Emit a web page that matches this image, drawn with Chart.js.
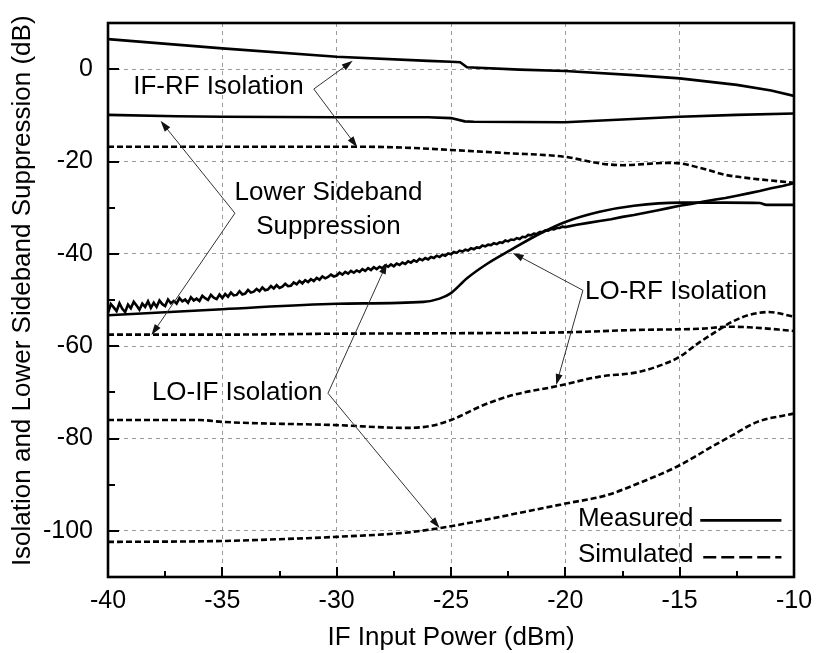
<!DOCTYPE html>
<html>
<head>
<meta charset="utf-8">
<script src="https://cdn.jsdelivr.net/npm/chart.js@4.4.1/dist/chart.umd.min.js"></script>
<style>
  html, body { margin: 0; padding: 0; background: #fff; }
  #wrap { width: 818px; height: 653px; position: relative; }
</style>
</head>
<body>
<div id="wrap"><canvas id="chart"></canvas></div>
<script>
// Axis ticks
const yTickValues = [-100, -80, -60, -40, -20, 0];
const yTitle = 'Isolation and Lower Sideband Suppression (dB)';

// Measured IF-RF isolation
const ifRfMeasX = [-40, -35, -30, -26, -25, -24.6, -24.3, -22, -20, -17, -15, -12.5, -11, -10];
const ifRfMeasY = [6.5, 4.5, 2.7, 1.8, 1.6, 1.5, 0.4, -0.1, -0.4, -1.3, -2.0, -3.4, -4.6, -5.8];

// Measured lower sideband suppression
const lsbMeasX = [-40, -37, -35, -30, -26, -25, -24.4, -24, -20, -17.5, -15, -12.5, -10];
const lsbMeasY = [-9.9, -10.2, -10.3, -10.4, -10.4, -10.6, -11.3, -11.4, -11.5, -10.9, -10.3, -9.9, -9.6];

// Simulated IF-RF isolation
const ifRfSimX = [-40, -29, -27, -25, -22.5, -20, -18.5, -17.5, -15.5, -15, -14, -13, -12, -10];
const ifRfSimY = [-16.8, -16.8, -17.0, -17.5, -18.2, -19.0, -20.4, -20.8, -20.3, -20.4, -21.5, -22.9, -23.6, -24.6];

// Measured LO-IF isolation: noisy part, 0.125 dBm steps from -40 to -20
const loIfNoisyY = [
  -52.8, -50.9, -51.6, -52.4, -50.7, -51.9, -52.6, -51.0,
  -51.8, -50.4, -51.2, -52.1, -50.8, -51.5, -50.3, -51.7,
  -50.6, -51.5, -50.1, -50.9, -51.3, -49.9, -50.7, -50.2,
  -50.8, -49.6, -50.3, -49.9, -50.6, -49.4, -50.1, -49.7,
  -50.2, -49.1, -49.6, -50.0, -48.9, -49.5, -49.8, -48.8,
  -49.6, -48.7, -49.3, -48.4, -49.0, -48.9, -48.1, -48.8,
  -48.6, -47.8, -48.4, -48.2, -47.6, -48.1, -47.3, -47.9,
  -47.7, -47.0, -47.5, -46.8, -47.4, -47.1, -46.5, -47.0,
  -46.9, -46.2, -46.6, -45.9, -46.4, -45.7, -46.1, -45.5,
  -45.9, -45.2, -45.6, -44.9, -45.3, -45.0, -44.5, -44.9,
  -44.7, -44.1, -44.5, -43.9, -44.3, -43.7, -44.1, -43.6,
  -43.9, -43.3, -43.7, -43.1, -43.5, -42.9, -43.3, -42.8,
  -43.1, -42.5, -42.8, -42.3, -42.7, -42.1, -42.4, -41.9,
  -42.2, -41.6, -41.9, -41.4, -41.7, -41.1, -41.4, -40.9,
  -41.2, -40.7, -40.9, -40.4, -40.7, -40.2, -40.4, -39.9,
  -40.1, -39.6, -39.8, -39.3, -39.5, -39.1, -39.3, -38.8,
  -39.0, -38.6, -38.7, -38.2, -38.4, -38.0, -38.1, -37.7,
  -37.9, -37.5, -37.6, -37.1, -37.3, -36.9, -37.0, -36.6,
  -36.8, -36.3, -36.4, -35.9, -36.0, -35.6, -35.7, -35.3,
  -35.3, -34.9, -35.0, -34.6, -34.7, -34.4, -34.4, -34.1,
  -34.2
];
// Measured LO-IF isolation: smooth part, 0.5 dBm steps from -19.5 to -10
const loIfSmoothY = [
  -33.7, -33.3, -32.9, -32.5, -32.0, -31.6, -31.1, -30.6, -30.1, -29.6,
  -29.2, -28.7, -28.3, -27.9, -27.4, -26.9, -26.4, -25.8, -25.3, -24.7
];
const loIfMeasX = loIfNoisyY.map((_, i) => -40 + i * 0.125)
  .concat(loIfSmoothY.map((_, i) => -19.5 + i * 0.5));
const loIfMeasY = loIfNoisyY.concat(loIfSmoothY);

// Measured LO-RF isolation
const loRfMeasX = [-40, -35, -30, -26.2, -25.5, -25, -24.3, -23.4, -22.4, -21.1, -20, -18.5, -17, -15, -13, -11.5, -11.2, -10];
const loRfMeasY = [-53.3, -52.0, -50.8, -50.4, -49.7, -48.5, -45.3, -42.1, -39.2, -35.6, -33.1, -30.9, -29.6, -28.9, -28.9, -29.0, -29.4, -29.4];

// Simulated lower sideband suppression
const lsbSimX = [-40, -35, -30, -25, -20, -17, -14, -12.9, -12, -10];
const lsbSimY = [-57.5, -57.5, -57.3, -57.2, -57.0, -56.5, -56.2, -55.8, -55.9, -56.7];

// Simulated LO-RF isolation
const loRfSimX = [-40, -36, -35, -30, -27, -25.9, -25, -23.6, -22.3, -20.4, -18.5, -16.8, -15.6, -15, -14.2, -13.3, -12.7, -12, -11.1, -10];
const loRfSimY = [-76.0, -76.0, -76.4, -77.1, -77.7, -77.3, -76.0, -72.8, -70.6, -68.7, -66.6, -65.6, -63.7, -62.3, -59.4, -56.5, -54.7, -53.3, -52.6, -53.6];

// Simulated LO-IF isolation
const loIfSimX = [-40, -35, -33, -30, -27, -25.6, -23.6, -21.8, -20, -18.2, -16.8, -15, -13.6, -12.7, -11.6, -10];
const loIfSimY = [-102.4, -102.2, -101.9, -101.3, -100.4, -99.5, -97.7, -95.9, -94.1, -92.3, -89.7, -85.8, -81.8, -79.3, -76.4, -74.6];

// Callout labels (data coordinates)
const callouts = [
  { lines: ['IF-RF Isolation'], x: -38.9, y: -3.9, align: 'left', from: [-31.0, -4.3], tips: [[-29.3, 1.8], [-29.1, -16.9]] },
  { lines: ['Lower Sideband', 'Suppression'], x: -30.36, y: -26.8, align: 'center', from: [-34.45, -31.2], tips: [[-37.7, -11.2], [-38.1, -57.6]] },
  { lines: ['LO-RF Isolation'], x: -19.14, y: -48.3, align: 'left', from: [-19.23, -47.9], tips: [[-22.3, -39.8], [-20.4, -68.4]] },
  { lines: ['LO-IF Isolation'], x: -38.08, y: -70.0, align: 'left', from: [-30.38, -70.2], tips: [[-27.8, -42.0], [-25.5, -99.4]] }
];

const FONT = '"Liberation Sans", Arial, sans-serif';
Chart.defaults.font.family = FONT;
Chart.defaults.color = '#000';

const toPoints = (xs, ys) => xs.map((x, i) => ({ x: x, y: ys[i] }));

function solid(xs, ys, smooth) {
  return {
    data: toPoints(xs, ys),
    borderColor: '#000',
    borderWidth: 2.6,
    pointRadius: 0,
    tension: 0,
    cubicInterpolationMode: smooth ? 'monotone' : 'default'
  };
}

function dashed(xs, ys) {
  return {
    data: toPoints(xs, ys),
    borderColor: '#000',
    borderWidth: 2.6,
    borderDash: [6, 3],
    pointRadius: 0,
    cubicInterpolationMode: 'monotone'
  };
}

function arrow(ctx, x0, y0, x1, y1) {
  const ang = Math.atan2(y1 - y0, x1 - x0);
  const len = 11, half = 3.5;
  ctx.beginPath();
  ctx.moveTo(x0, y0);
  ctx.lineTo(x1 - Math.cos(ang) * len * 0.8, y1 - Math.sin(ang) * len * 0.8);
  ctx.stroke();
  ctx.beginPath();
  ctx.moveTo(x1, y1);
  ctx.lineTo(x1 - Math.cos(ang) * len - Math.sin(ang) * half, y1 - Math.sin(ang) * len + Math.cos(ang) * half);
  ctx.lineTo(x1 - Math.cos(ang) * len + Math.sin(ang) * half, y1 - Math.sin(ang) * len - Math.cos(ang) * half);
  ctx.closePath();
  ctx.fill();
}

// Frame, inward ticks, y title, callouts and legend
const decorPlugin = {
  id: 'decor',
  afterDraw(chart) {
    const { ctx, chartArea: a, scales: { x, y } } = chart;
    ctx.save();

    // inward ticks
    ctx.strokeStyle = '#000';
    ctx.lineWidth = 2;
    for (let v = -37.5; v < -10; v += 2.5) {
      const px = Math.round(x.getPixelForValue(v));
      const len = (v % 5 === 0) ? 10 : 6;
      ctx.beginPath();
      ctx.moveTo(px, a.bottom);
      ctx.lineTo(px, a.bottom - len);
      ctx.stroke();
    }
    for (let v = -100; v <= 0; v += 10) {
      const py = Math.round(y.getPixelForValue(v));
      const len = (v % 20 === 0) ? 11 : 7;
      ctx.beginPath();
      ctx.moveTo(a.left, py);
      ctx.lineTo(a.left + len, py);
      ctx.stroke();
    }

    // frame
    ctx.lineWidth = 2.6;
    ctx.strokeRect(a.left, a.top, a.right - a.left, a.bottom - a.top);

    // y axis title
    ctx.fillStyle = '#000';
    ctx.font = '26px ' + FONT;
    ctx.textAlign = 'center';
    ctx.textBaseline = 'middle';
    ctx.save();
    ctx.translate(23, y.getPixelForValue(-48));
    ctx.rotate(-Math.PI / 2);
    ctx.fillText(yTitle, 0, 0);
    ctx.restore();

    // callouts
    callouts.forEach(c => {
      ctx.textAlign = c.align;
      ctx.fillStyle = '#000';
      const tx = x.getPixelForValue(c.x);
      const ty = y.getPixelForValue(c.y);
      c.lines.forEach((t, i) => ctx.fillText(t, tx, ty + i * 34));
      ctx.strokeStyle = '#333';
      ctx.fillStyle = '#111';
      ctx.lineWidth = 1;
      const fx = x.getPixelForValue(c.from[0]);
      const fy = y.getPixelForValue(c.from[1]);
      c.tips.forEach(t => arrow(ctx, fx, fy, x.getPixelForValue(t[0]), y.getPixelForValue(t[1])));
    });

    // legend
    ctx.fillStyle = '#000';
    ctx.textAlign = 'left';
    const lx = x.getPixelForValue(-19.45);
    const l0 = x.getPixelForValue(-14.1);
    const l1 = x.getPixelForValue(-10.55);
    const ly1 = y.getPixelForValue(-97.3);
    const ly2 = y.getPixelForValue(-105.3);
    ctx.fillText('Measured', lx, ly1);
    ctx.fillText('Simulated', lx, ly2);
    ctx.strokeStyle = '#000';
    ctx.lineWidth = 2.6;
    ctx.beginPath();
    ctx.moveTo(l0, ly1 + 2);
    ctx.lineTo(l1, ly1 + 2);
    ctx.stroke();
    ctx.setLineDash([13, 5]);
    ctx.beginPath();
    ctx.moveTo(l0 + 3, ly2 + 2);
    ctx.lineTo(l1, ly2 + 2);
    ctx.stroke();
    ctx.restore();
  }
};

new Chart(document.getElementById('chart'), {
  type: 'line',
  data: {
    datasets: [
      solid(ifRfMeasX, ifRfMeasY, false),
      solid(lsbMeasX, lsbMeasY, false),
      dashed(ifRfSimX, ifRfSimY),
      solid(loIfMeasX, loIfMeasY, false),
      solid(loRfMeasX, loRfMeasY, true),
      dashed(lsbSimX, lsbSimY),
      dashed(loRfSimX, loRfSimY),
      dashed(loIfSimX, loIfSimY)
    ]
  },
  options: {
    responsive: true,
    maintainAspectRatio: false,
    animation: false,
    layout: { padding: { top: 23, right: 24, left: 0, bottom: 0 } },
    plugins: {
      legend: { display: false },
      tooltip: { enabled: false }
    },
    scales: {
      x: {
        type: 'linear',
        min: -40,
        max: -10,
        afterFit: s => { s.height = 76; s.paddingLeft = 0; s.paddingRight = 0; },
        ticks: { stepSize: 5, font: { size: 25 }, color: '#000', padding: 9, maxRotation: 0 },
        grid: { color: '#9a9a9a', lineWidth: 1, drawTicks: false },
        border: { display: false, dash: [4, 4] },
        title: { display: true, text: 'IF Input Power (dBm)', font: { size: 26 }, color: '#000', padding: { top: 3, bottom: 0 } }
      },
      y: {
        type: 'linear',
        min: -110,
        max: 10,
        afterFit: s => { s.width = 108; s.paddingTop = 0; s.paddingBottom = 0; },
        afterBuildTicks: s => { s.ticks = yTickValues.map(v => ({ value: v })); },
        ticks: { font: { size: 25 }, color: '#000', padding: 15 },
        grid: { color: '#9a9a9a', lineWidth: 1, drawTicks: false },
        border: { display: false, dash: [4, 4] },
        title: { display: false }
      }
    }
  },
  plugins: [decorPlugin]
});
</script>
</body>
</html>
